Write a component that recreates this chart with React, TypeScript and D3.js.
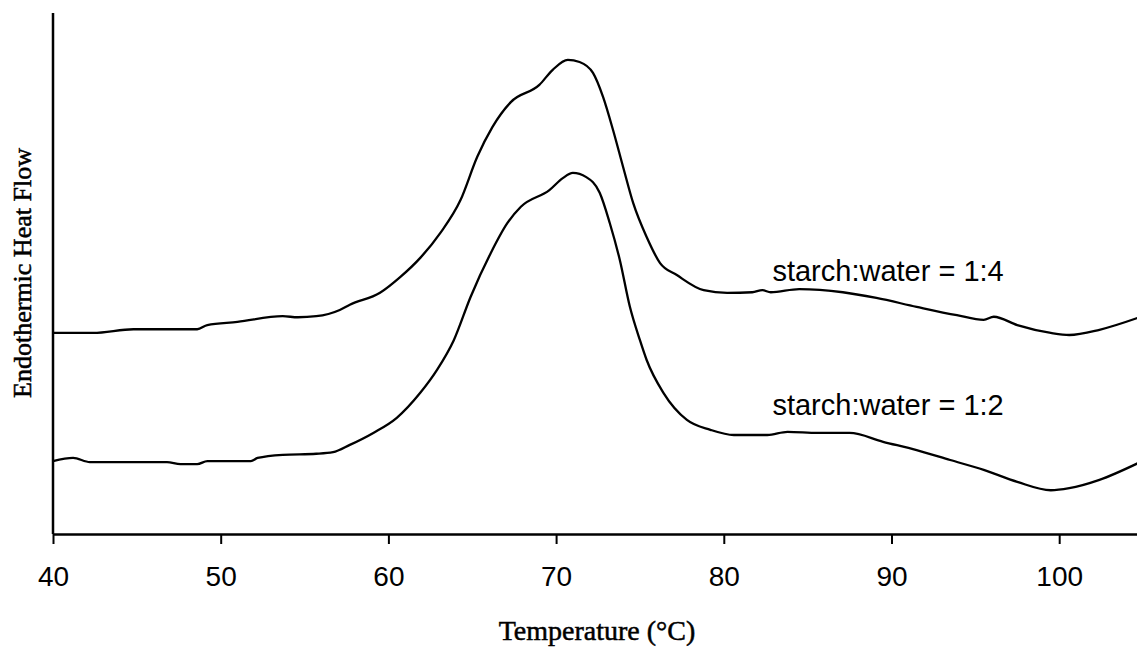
import { useEffect, useRef } from 'react';
import * as d3 from 'd3';

// Temperature (°C) and heat flow (arbitrary units)
const temp14 = [40, 42.4, 44.8, 48.6, 49.2, 51.0, 53.7, 54.6, 55.7, 57.1, 57.7, 59.5, 60.7, 61.9, 63.1, 64.3, 65.3, 66.2, 67.3, 69.0, 69.8, 70.7, 71.4, 72.2, 72.8, 73.4, 74.0, 74.6, 75.4, 76.2, 77.2, 78.8, 80.2, 81.7, 82.3, 82.8, 84.5, 87.1, 89.1, 91.5, 93.9, 95.5, 96.1, 97.5, 99.5, 100.6, 102.4, 104.7];
const flow14 = [3.86, 3.86, 3.93, 3.93, 4.01, 4.07, 4.18, 4.16, 4.18, 4.30, 4.40, 4.63, 4.93, 5.30, 5.78, 6.41, 7.24, 7.81, 8.29, 8.62, 8.91, 9.10, 9.06, 8.85, 8.39, 7.75, 7.04, 6.35, 5.70, 5.20, 4.97, 4.68, 4.63, 4.64, 4.68, 4.64, 4.70, 4.64, 4.53, 4.36, 4.20, 4.11, 4.17, 4.01, 3.86, 3.82, 3.92, 4.15];

const temp12 = [40, 41.2, 42.2, 46.8, 47.6, 48.6, 49.2, 51.8, 52.2, 53.7, 55.7, 56.7, 57.7, 59.1, 60.5, 61.9, 62.9, 63.9, 64.9, 66.1, 67.1, 67.9, 69.6, 70.4, 71.0, 71.8, 72.6, 73.2, 73.8, 74.4, 75.0, 75.4, 76.4, 77.8, 79.2, 80.6, 82.6, 83.8, 85.6, 87.5, 89.5, 91.5, 93.5, 95.5, 97.5, 99.5, 100.6, 102.4, 104.7];
const flow12 = [1.40, 1.46, 1.38, 1.38, 1.34, 1.34, 1.40, 1.40, 1.46, 1.52, 1.54, 1.57, 1.71, 1.94, 2.23, 2.71, 3.15, 3.72, 4.55, 5.39, 5.97, 6.28, 6.60, 6.83, 6.93, 6.85, 6.55, 5.97, 5.26, 4.36, 3.72, 3.34, 2.71, 2.19, 2.00, 1.90, 1.90, 1.96, 1.94, 1.94, 1.77, 1.61, 1.42, 1.23, 1.00, 0.84, 0.88, 1.04, 1.36];

const seriesLabels = ['starch:water = 1:4', 'starch:water = 1:2'];
const labelPos = [[82.9, 4.85], [82.9, 2.29]];
const xTicks = [40, 50, 60, 70, 80, 90, 100];

const App = () => {
  const svgRef = useRef<SVGSVGElement>(null);

  useEffect(() => {
    const svg = d3.select(svgRef.current);
    svg.selectAll('*').remove();

    const width = 1137;
    const height = 649;
    const margin = { top: 13, right: 0, bottom: 115, left: 53 };

    const x = d3.scaleLinear().domain([40, 104.64]).range([margin.left, width - margin.right]);
    const y = d3.scaleLinear().domain([0, 10]).range([height - margin.bottom, margin.top]);

    svg.append('rect').attr('width', width).attr('height', height).attr('fill', '#fff');

    // X axis
    const xAxis = svg
      .append('g')
      .attr('transform', `translate(0,${height - margin.bottom})`)
      .call(d3.axisBottom(x).tickValues(xTicks).tickSize(10).tickSizeOuter(0).tickPadding(22).tickFormat(d3.format('d')));
    xAxis.select('.domain').attr('stroke', '#000').attr('stroke-width', 2.5);
    xAxis.selectAll('.tick line').attr('stroke', '#000').attr('stroke-width', 2);
    xAxis
      .selectAll('.tick text')
      .attr('fill', '#000')
      .style('font-family', '"Liberation Sans", Arial, sans-serif')
      .style('font-size', '28px');

    // Y axis (no labels)
    svg
      .append('line')
      .attr('x1', margin.left)
      .attr('x2', margin.left)
      .attr('y1', margin.top)
      .attr('y2', height - margin.bottom)
      .attr('stroke', '#000')
      .attr('stroke-width', 2.5);

    // Curves
    const line = d3
      .line<[number, number]>()
      .x((d) => x(d[0]))
      .y((d) => y(d[1]))
      .curve(d3.curveMonotoneX);

    const series: [number, number][][] = [
      temp14.map((t, i) => [t, flow14[i]]),
      temp12.map((t, i) => [t, flow12[i]]),
    ];

    series.forEach((s) => {
      svg
        .append('path')
        .datum(s)
        .attr('fill', 'none')
        .attr('stroke', '#000')
        .attr('stroke-width', 2.3)
        .attr('d', line);
    });

    // Series labels
    seriesLabels.forEach((lbl, i) => {
      svg
        .append('text')
        .attr('x', x(labelPos[i][0]))
        .attr('y', y(labelPos[i][1]))
        .style('font-family', '"Liberation Sans", Arial, sans-serif')
        .style('font-size', '29px')
        .attr('fill', '#000')
        .text(lbl);
    });

    // Axis titles
    svg
      .append('text')
      .attr('x', (margin.left + width) / 2 + 2)
      .attr('y', 640)
      .attr('text-anchor', 'middle')
      .style('font-family', '"Liberation Serif", "Times New Roman", serif')
      .style('font-size', '28px')
      .attr('fill', '#000')
      .attr('stroke', '#000')
      .attr('stroke-width', 0.5)
      .text('Temperature (°C)');

    svg
      .append('text')
      .attr('transform', 'translate(31,273) rotate(-90)')
      .attr('text-anchor', 'middle')
      .style('font-family', '"Liberation Serif", "Times New Roman", serif')
      .style('font-size', '26px')
      .attr('fill', '#000')
      .attr('stroke', '#000')
      .attr('stroke-width', 0.5)
      .text('Endothermic Heat Flow');
  }, []);

  return (
    <svg
      ref={svgRef}
      width={1137}
      height={649}
      style={{ position: 'absolute', left: 0, top: 0 }}
    ></svg>
  );
};

export default App;
